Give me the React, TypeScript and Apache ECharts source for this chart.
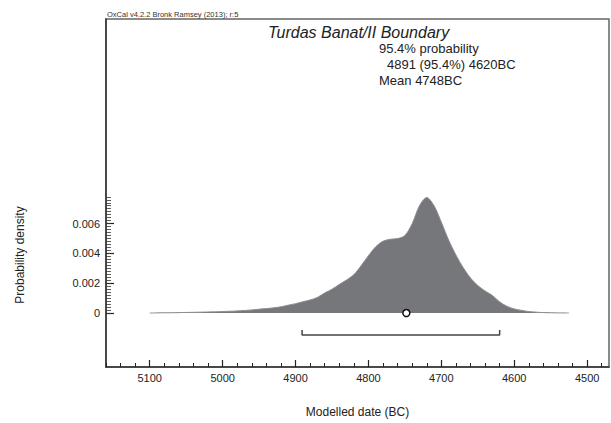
import React, { useEffect, useRef } from "react";
import * as echarts from "echarts";

// Modelled probability distribution (years BC, density)
const years = [
  5100, 5090, 5080, 5070, 5060, 5050, 5040, 5030, 5020, 5010, 5000, 4990, 4980, 4970, 4960, 4950,
  4940, 4930, 4920, 4910, 4900, 4890, 4880, 4870, 4860, 4850, 4840, 4830, 4820, 4810, 4800, 4790,
  4780, 4770, 4760, 4750, 4740, 4730, 4720, 4710, 4700, 4690, 4680, 4670, 4660, 4650, 4640, 4630,
  4620, 4610, 4600, 4590, 4580, 4570, 4560, 4550, 4540, 4530, 4525,
];
const density = [
  0, 0.00001, 0.00002, 0.00002, 0.00003, 0.00004, 0.00005, 0.00006, 0.00007, 0.00008, 0.0001,
  0.00012, 0.00014, 0.00017, 0.00021, 0.00026, 0.0003, 0.00035, 0.00042, 0.00053, 0.00063,
  0.00076, 0.00088, 0.00105, 0.00135, 0.0016, 0.00192, 0.00222, 0.00258, 0.00318, 0.00385,
  0.00445, 0.00482, 0.00495, 0.005, 0.0052, 0.006, 0.0072, 0.00775, 0.0072, 0.0061, 0.0049,
  0.0039, 0.00305, 0.00235, 0.00185, 0.00148, 0.00118, 0.00075, 0.00045, 0.00028, 0.00018,
  0.0001, 0.00006, 0.00003, 0.00002, 0.00001, 0.00001, 0,
];

// 95.4% range and mean
const rangeFrom = 4891;
const rangeTo = 4620;
const meanYear = 4748;

// Axis ticks
const xMajorTicks = [5100, 5000, 4900, 4800, 4700, 4600, 4500];
const xMinorTicks = [
  5160, 5140, 5120, 5100, 5080, 5060, 5040, 5020, 5000, 4980, 4960, 4940, 4920, 4900, 4880, 4860,
  4840, 4820, 4800, 4780, 4760, 4740, 4720, 4700, 4680, 4660, 4640, 4620, 4600, 4580, 4560, 4540,
  4520, 4500, 4480,
];
const yMajorTicks = [0, 0.002, 0.004, 0.006];
const yMinorTicks = [
  0, 0.0002, 0.0004, 0.0006, 0.0008, 0.001, 0.0012, 0.0014, 0.0016, 0.0018, 0.002, 0.0022, 0.0024,
  0.0026, 0.0028, 0.003, 0.0032, 0.0034, 0.0036, 0.0038, 0.004, 0.0042, 0.0044, 0.0046, 0.0048,
  0.005, 0.0052, 0.0054, 0.0056, 0.0058, 0.006, 0.0062, 0.0064, 0.0066, 0.0068, 0.007, 0.0072,
  0.0074, 0.0076, 0.0078,
];

const title = "Turdas Banat/II Boundary";
const infoLines = ["95.4% probability", "4891 (95.4%) 4620BC", "Mean 4748BC"];
const header = "OxCal v4.2.2 Bronk Ramsey (2013); r:5";

const X_MIN = 4470;
const X_MAX = 5160;
const Y_MIN = -0.00362;
const Y_MAX = 0.01973;
const FONT = '"Liberation Sans", Arial, sans-serif';
const TEXT = "#222";

export default function App() {
  const ref = useRef<HTMLDivElement>(null);
  useEffect(() => {
    if (!ref.current) return;
    const chart = echarts.init(ref.current, undefined, { renderer: "svg" });
    const xBase = {
      type: "value" as const,
      min: X_MIN,
      max: X_MAX,
      inverse: true,
      position: "bottom" as const,
      splitLine: { show: false },
    };
    const yBase = {
      type: "value" as const,
      min: Y_MIN,
      max: Y_MAX,
      position: "left" as const,
      splitLine: { show: false },
    };
    chart.setOption({
      animation: false,
      backgroundColor: "#fff",
      grid: {
        left: 106,
        top: 19,
        right: 2,
        bottom: 56,
        show: true,
        borderColor: "#666",
        borderWidth: 1.5,
      },
      xAxis: [
        {
          ...xBase,
          axisLine: { show: true, onZero: false, lineStyle: { color: "#333", width: 1.5 } },
          axisTick: {
            show: true,
            inside: true,
            length: 7,
            customValues: xMajorTicks,
            lineStyle: { color: "#222", width: 1.2 },
          },
          axisLabel: {
            show: true,
            customValues: xMajorTicks,
            color: TEXT,
            fontFamily: FONT,
            fontSize: 11,
            margin: 5,
            formatter: (v: number) => String(v),
          },
          name: "Modelled date (BC)",
          nameLocation: "middle",
          nameGap: 39,
          nameTextStyle: { color: TEXT, fontFamily: FONT, fontSize: 12 },
        },
        {
          ...xBase,
          axisLine: { show: false, onZero: false },
          axisTick: {
            show: true,
            inside: true,
            length: 4,
            customValues: xMinorTicks,
            lineStyle: { color: "#222", width: 1 },
          },
          axisLabel: { show: false },
        },
      ],
      yAxis: [
        {
          ...yBase,
          axisLine: { show: true, onZero: false, lineStyle: { color: "#333", width: 1.5 } },
          axisTick: {
            show: true,
            inside: true,
            length: 8,
            customValues: yMajorTicks,
            lineStyle: { color: "#222", width: 1.2 },
          },
          axisLabel: {
            show: true,
            customValues: yMajorTicks,
            color: TEXT,
            fontFamily: FONT,
            fontSize: 11,
            margin: 6,
            formatter: (v: number) => (v === 0 ? "0" : v.toFixed(3)),
          },
        },
        {
          ...yBase,
          axisLine: { show: false, onZero: false },
          axisTick: {
            show: true,
            inside: true,
            length: 5,
            customValues: yMinorTicks,
            lineStyle: { color: "#333", width: 0.8 },
          },
          axisLabel: { show: false },
        },
      ],
      series: [
        {
          type: "line",
          xAxisIndex: 0,
          yAxisIndex: 0,
          data: years.map((y, i) => [y, density[i]]),
          symbol: "none",
          smooth: 0.3,
          lineStyle: { color: "#8c8c8f", width: 1 },
          areaStyle: { color: "#76777b", opacity: 1 },
          z: 2,
        },
        {
          type: "line",
          xAxisIndex: 0,
          yAxisIndex: 0,
          data: [
            [rangeFrom, -0.00114],
            [rangeFrom, -0.00148],
            [rangeTo, -0.00148],
            [rangeTo, -0.00114],
          ],
          symbol: "none",
          lineStyle: { color: "#444", width: 1.5 },
          z: 3,
        },
        {
          type: "scatter",
          xAxisIndex: 0,
          yAxisIndex: 0,
          data: [[meanYear, 0]],
          symbol: "circle",
          symbolSize: 7,
          itemStyle: { color: "#fff", borderColor: "#111", borderWidth: 1.5, opacity: 1 },
          z: 4,
        },
      ],
      graphic: [
        {
          type: "text",
          left: 107,
          top: 10,
          style: { text: header, fontFamily: FONT, fontSize: 7.5, fill: "#333" },
        },
        {
          type: "text",
          x: 268,
          y: 32,
          style: {
            text: title,
            font: `italic 16px ${FONT}`,
            fill: TEXT,
            verticalAlign: "middle",
            align: "left",
          },
        },
        {
          type: "text",
          x: 379,
          y: 48.5,
          style: { text: infoLines[0], fontFamily: FONT, fontSize: 13, fill: TEXT, verticalAlign: "middle" },
        },
        {
          type: "text",
          x: 387,
          y: 64.5,
          style: { text: infoLines[1], fontFamily: FONT, fontSize: 13, fill: TEXT, verticalAlign: "middle" },
        },
        {
          type: "text",
          x: 379,
          y: 80.5,
          style: { text: infoLines[2], fontFamily: FONT, fontSize: 13, fill: TEXT, verticalAlign: "middle" },
        },
        {
          type: "text",
          x: 20,
          y: 255,
          rotation: Math.PI / 2,
          style: {
            text: "Probability density",
            fontFamily: FONT,
            fontSize: 12,
            fill: TEXT,
            align: "center",
            verticalAlign: "middle",
          },
        },
      ],
    });
    return () => chart.dispose();
  }, []);
  return (
    <div
      ref={ref}
      style={{ position: "fixed", left: 0, top: 0, width: 611, height: 423, background: "#fff" }}
    />
  );
}
